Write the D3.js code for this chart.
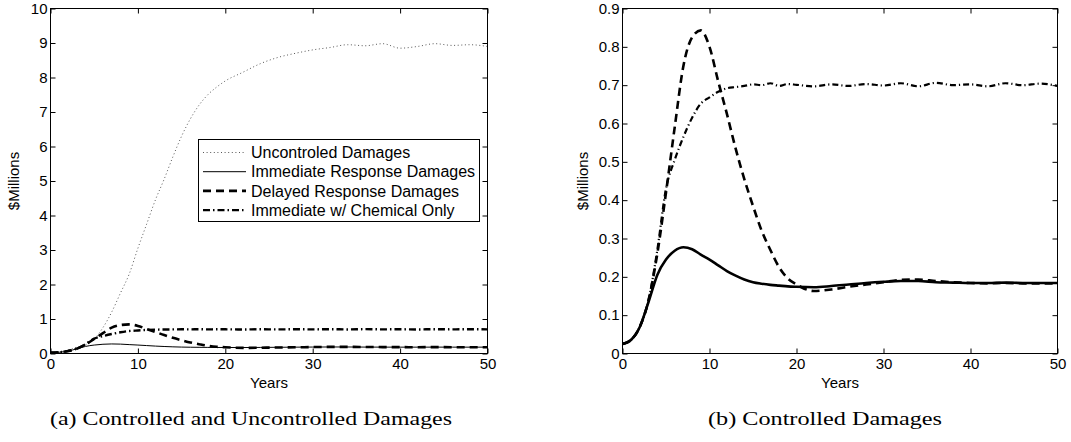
<!DOCTYPE html>
<html lang="en">
<head>
<meta charset="UTF-8">
<title>Damages</title>
<style>
  body { margin: 0; background: #fff; }
  svg { display: block; }
  .tick text { font-family: "Liberation Sans", Arial, sans-serif; font-size: 15px; fill: #000; }
  .lbl { font-family: "Liberation Sans", Arial, sans-serif; font-size: 15px; fill: #000; }
  .cap { font-family: "Liberation Serif", "Times New Roman", serif; font-size: 19px; fill: #000; }
  .leg { font-family: "Liberation Sans", Arial, sans-serif; font-size: 16px; fill: #000; }
</style>
</head>
<body>
<svg id="chart" width="1071" height="442"></svg>
<script src="https://cdn.jsdelivr.net/npm/d3@7"></script>
<script>
// years
const years = [0,1,2,3,4,5,6,7,8,9,10,11,12,13,14,15,16,17,18,19,20,22,24,26,28,30,32,34,36,38,40,42,44,46,48,50];

const uncontrolled = [0.03,0.05,0.1,0.18,0.25,0.42,0.75,1.2,1.75,2.3,3.05,3.75,4.45,5.05,5.7,6.3,6.8,7.2,7.5,7.72,7.9,
  8.15,8.4,8.58,8.7,8.8,8.87,8.95,8.92,8.98,8.85,8.9,8.98,8.93,8.95,8.9];
const immediate = [0.025,0.036,0.07,0.135,0.205,0.245,0.268,0.277,0.272,0.258,0.245,0.23,0.215,0.203,0.193,0.186,0.182,0.179,0.177,0.175,0.174,
  0.173,0.176,0.18,0.184,0.187,0.189,0.189,0.186,0.185,0.184,0.184,0.185,0.184,0.184,0.184];
const delayed = [0.025,0.036,0.07,0.14,0.26,0.42,0.59,0.75,0.825,0.843,0.8,0.71,0.625,0.535,0.455,0.385,0.32,0.27,0.225,0.196,0.18,
  0.163,0.167,0.174,0.18,0.186,0.192,0.193,0.189,0.186,0.184,0.183,0.184,0.183,0.183,0.183];
const chemical = [0.025,0.036,0.07,0.14,0.27,0.43,0.505,0.565,0.615,0.652,0.668,0.683,0.692,0.695,0.698,0.702,0.7,0.705,0.698,0.703,0.701,
  0.697,0.702,0.698,0.703,0.699,0.705,0.697,0.706,0.7,0.702,0.697,0.705,0.7,0.704,0.698];

const legendLabels = ["Uncontroled Damages", "Immediate Response Damages", "Delayed Response Damages", "Immediate w/ Chemical Only"];
const xTicks = [0,10,20,30,40,50];
const yTicksA = [0,1,2,3,4,5,6,7,8,9,10];
const yTicksB = [0,0.1,0.2,0.3,0.4,0.5,0.6,0.7,0.8,0.9];

const svg = d3.select("#chart");

// line styles
const styles = {
  uncontrolled: { w: 0.9, dash: "1,2.6", color: "#444" },
  immediateThin: { w: 1, dash: null, color: "#000" },
  immediateThick: { w: 2.6, dash: null, color: "#000" },
  delayed: { w: 2.6, dash: "8,5", color: "#000" },
  chemical: { w: 2.4, dash: "7,3,1.5,3", color: "#000" }
};

function drawPanel(opt) {
  const x = d3.scaleLinear().domain([0, 50]).range([opt.x0, opt.x1]);
  const y = d3.scaleLinear().domain([0, opt.ymax]).range([opt.y1, opt.y0]);
  const g = svg.append("g");

  const line = vals => d3.line()
    .x((d, i) => x(years[i]))
    .y(d => y(d))
    .curve(d3.curveMonotoneX)(vals);

  opt.series.forEach(s => {
    g.append("path")
      .attr("d", line(s.vals))
      .attr("fill", "none")
      .attr("stroke", s.st.color)
      .attr("stroke-width", s.st.w)
      .attr("stroke-dasharray", s.st.dash);
  });

  // axes, ticks pointing inward
  g.append("g").attr("transform", `translate(0,${opt.y1})`)
    .call(d3.axisBottom(x).tickValues(xTicks).tickSizeInner(-5).tickSizeOuter(0).tickPadding(5).tickFormat(d3.format("d")));
  g.append("g").attr("transform", `translate(0,${opt.y0})`)
    .call(d3.axisTop(x).tickValues(xTicks).tickSizeInner(-5).tickSizeOuter(0).tickFormat(""));
  g.append("g").attr("transform", `translate(${opt.x0},0)`)
    .call(d3.axisLeft(y).tickValues(opt.yTicks).tickSizeInner(-5).tickSizeOuter(0).tickPadding(3).tickFormat(opt.yFmt));
  g.append("g").attr("transform", `translate(${opt.x1},0)`)
    .call(d3.axisRight(y).tickValues(opt.yTicks).tickSizeInner(-5).tickSizeOuter(0).tickFormat(""));
  g.selectAll(".domain").remove();
  g.selectAll(".tick line").attr("stroke", "#000");

  g.append("rect")
    .attr("x", opt.x0).attr("y", opt.y0)
    .attr("width", opt.x1 - opt.x0).attr("height", opt.y1 - opt.y0)
    .attr("fill", "none").attr("stroke", "#000").attr("stroke-width", 1);

  g.append("text").attr("class", "lbl")
    .attr("x", (opt.x0 + opt.x1) / 2).attr("y", 388)
    .attr("text-anchor", "middle").text("Years");
  g.append("text").attr("class", "lbl")
    .attr("transform", `translate(${opt.ylabX},${(opt.y0 + opt.y1) / 2}) rotate(-90)`)
    .attr("text-anchor", "middle").text("$Millions");

  g.append("text").attr("class", "cap")
    .attr("x", opt.capX).attr("y", 425)
    .attr("text-anchor", "middle")
    .attr("textLength", opt.capW).attr("lengthAdjust", "spacingAndGlyphs")
    .text(opt.caption);

  return { g, x, y };
}

const left = drawPanel({
  x0: 50.5, x1: 487.5, y0: 8.5, y1: 353.5, ymax: 10,
  yTicks: yTicksA, yFmt: d3.format("d"), ylabX: 19,
  caption: "(a) Controlled and Uncontrolled Damages", capX: 251, capW: 402,
  series: [
    { vals: uncontrolled, st: styles.uncontrolled },
    { vals: immediate, st: styles.immediateThin },
    { vals: delayed, st: styles.delayed },
    { vals: chemical, st: styles.chemical }
  ]
});

drawPanel({
  x0: 622.5, x1: 1057.5, y0: 8.5, y1: 353.5, ymax: 0.9,
  yTicks: yTicksB, yFmt: d => d === 0 ? "0" : d3.format(".1f")(d), ylabX: 588,
  caption: "(b) Controlled Damages", capX: 825, capW: 234,
  series: [
    { vals: chemical, st: { w: 2.2, dash: "6,3,1.2,3", color: "#000" } },
    { vals: delayed, st: styles.delayed },
    { vals: immediate, st: styles.immediateThick }
  ]
});

// legend on the left panel
const lg = left.g.append("g");
lg.append("rect")
  .attr("x", 198.5).attr("y", 139.5).attr("width", 281).attr("height", 82)
  .attr("fill", "#fff").attr("stroke", "#000").attr("stroke-width", 1);
const legStyles = [styles.uncontrolled, styles.immediateThin, styles.delayed, styles.chemical];
legendLabels.forEach((t, i) => {
  const yy = 152.5 + i * 19.2;
  lg.append("line")
    .attr("x1", 203).attr("x2", 246).attr("y1", yy).attr("y2", yy)
    .attr("stroke", legStyles[i].color).attr("stroke-width", legStyles[i].w)
    .attr("stroke-dasharray", legStyles[i].dash);
  lg.append("text").attr("class", "leg")
    .attr("x", 251).attr("y", yy).attr("dy", "0.36em").text(t);
});
</script>
</body>
</html>
